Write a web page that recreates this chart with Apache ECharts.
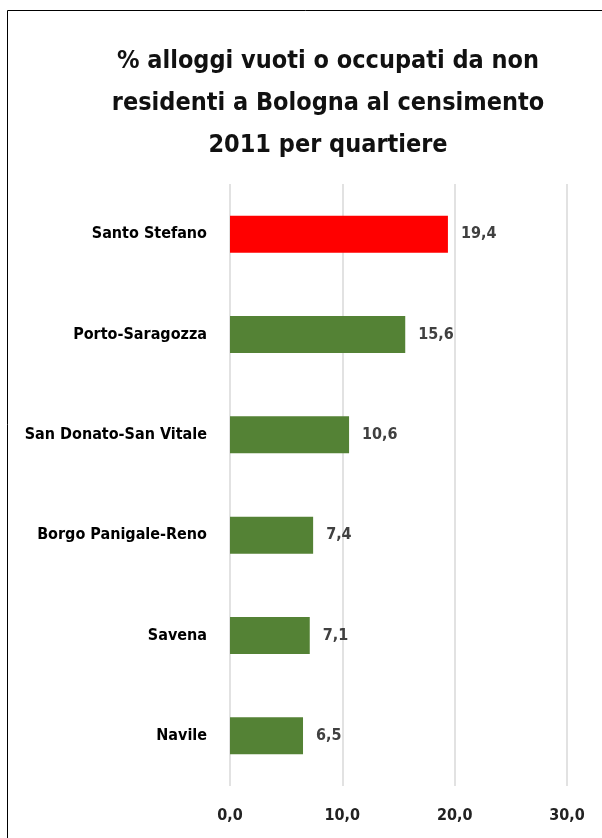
<!DOCTYPE html>
<html>
<head>
<meta charset="utf-8">
<script src="https://cdn.jsdelivr.net/npm/echarts@6/dist/echarts.min.js"></script>
<style>
  html, body { margin: 0; padding: 0; background: #fff; }
  #chart { width: 602px; height: 838px; }
</style>
</head>
<body>
<div id="chart"></div>
<script>
const quartieri = ['Santo Stefano', 'Porto-Saragozza', 'San Donato-San Vitale', 'Borgo Panigale-Reno', 'Savena', 'Navile'];
const valori = [19.4, 15.6, 10.6, 7.4, 7.1, 6.5];
const coloriBarre = ['#ff0000', '#548235', '#548235', '#548235', '#548235', '#548235'];
const tickAsse = [0, 10, 20, 30];

const chart = echarts.init(document.getElementById('chart'));

const fmt = v => v.toFixed(1).replace('.', ',');

const option = {
  animation: false,
  title: {
    text: '% alloggi vuoti o occupati da non\nresidenti a Bologna al censimento\n2011 per quartiere',
    left: 323,
    textAlign: 'center',
    top: 35,
    textStyle: {
      fontFamily: 'Liberation Sans Narrow, DejaVu Sans Condensed, sans-serif',
      fontSize: 25,
      fontWeight: 'bold',
      color: '#111',
      lineHeight: 42
    }
  },
  graphic: [{
    type: 'rect',
    shape: { x: 7.5, y: 10.5, width: 800, height: 1000 },
    style: { fill: 'none', stroke: '#000', lineWidth: 1 }
  }],
  grid: { left: 230, right: 35, top: 184, bottom: 52 },
  xAxis: {
    type: 'value',
    min: tickAsse[0],
    max: tickAsse[tickAsse.length - 1],
    interval: 10,
    axisLine: { show: false },
    axisTick: { show: false },
    splitLine: { lineStyle: { color: '#d9d9d9', width: 1.5 } },
    axisLabel: {
      margin: 22,
      formatter: v => fmt(v),
      fontFamily: 'Liberation Sans Narrow, DejaVu Sans Condensed, sans-serif',
      fontSize: 16,
      fontWeight: 'bold',
      color: '#222'
    }
  },
  yAxis: {
    type: 'category',
    data: quartieri,
    inverse: true,
    axisLine: { show: false },
    axisTick: { show: false },
    axisLabel: {
      margin: 23,
      fontFamily: 'Liberation Sans Narrow, DejaVu Sans Condensed, sans-serif',
      fontSize: 16,
      fontWeight: 'bold',
      color: '#000'
    }
  },
  series: [{
    type: 'bar',
    data: valori.map((v, i) => ({ value: v, itemStyle: { color: coloriBarre[i] } })),
    barWidth: 37,
    label: {
      show: true,
      position: 'right',
      distance: 13,
      formatter: p => fmt(p.value),
      fontFamily: 'Liberation Sans Narrow, DejaVu Sans Condensed, sans-serif',
      fontSize: 16,
      fontWeight: 'bold',
      color: '#404040'
    }
  }]
};

chart.setOption(option);
</script>
</body>
</html>
